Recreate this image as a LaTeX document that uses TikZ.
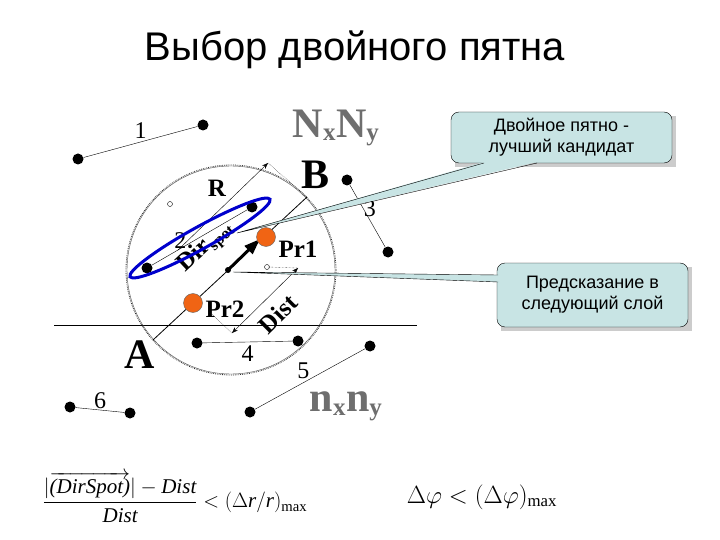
\documentclass[tikz,border=0pt]{standalone}
\usepackage{amsmath}
\usepackage{fontspec}
\setmainfont{Liberation Serif}
\newfontfamily\arialf{Liberation Sans}
\usetikzlibrary{arrows.meta,calc}
\definecolor{callfill}{RGB}{200,228,228}
\definecolor{orng}{RGB}{240,100,20}
\definecolor{grayt}{RGB}{110,110,110}
\begin{document}
\begin{tikzpicture}[x=1pt,y=-1pt,
  dot/.style={circle,fill=black,inner sep=0pt,minimum size=11pt},
  odot/.style={circle,fill=orng,draw=black!60,inner sep=0pt,minimum size=19pt},
  sdot/.style={circle,draw=black,inner sep=0pt,minimum size=5pt},
  lab/.style={font=\fontsize{24}{24}\selectfont},
  blab/.style={font=\bfseries\fontsize{25}{25}\selectfont},
  big/.style={font=\bfseries\fontsize{42}{42}\selectfont},
  callbox/.style={draw=black,fill=callfill,rounded corners=8pt,font=\arialf\fontsize{18}{21}\selectfont,align=center}]
\useasboundingbox (0,0) rectangle (720,540);
\node[font=\arialf\fontsize{40}{40}\selectfont] (title) at (355,50) {Выбор двойного пятна};
% horizontal line
\coordinate (h1) at (54,325); \coordinate (h2) at (417,325);
\draw (h1) -- (h2);
% circle
\node[circle,draw=black!80,densely dotted,thick,minimum size=210pt,inner sep=0pt] (circ) at (231,270) {};
\draw[black!70] (231,270) circle (104);
% dots and segments
\node[dot] (d1a) at (78,159) {}; \node[dot] (d1b) at (203,125) {};
\draw (d1a) -- (d1b) node[lab,midway,above=0pt] {1};
\node[dot] (d3a) at (347,180) {}; \node[dot] (d3b) at (388,252) {};
\draw (d3a) -- (d3b) node[lab,pos=0.38,right=-3pt] {3};
\node[dot] (d4a) at (197,343) {}; \node[dot] (d4b) at (298,341) {};
\draw (d4a) -- (d4b) node[lab,midway,below=0pt] {4};
\node[dot] (d5a) at (250,412) {}; \node[dot] (d5b) at (370,346) {};
\draw (d5a) -- (d5b) node[lab,midway,above left=-3pt] {5};
\node[dot] (d6a) at (70,407) {}; \node[dot] (d6b) at (130,413) {};
\draw (d6a) -- (d6b) node[lab,midway,above=-2pt] {6};
\node[dot] (e1) at (147,268) {}; \node[dot] (e2) at (252,207) {};
\draw (e1) -- (e2) node[lab,pos=0.3,above=-3pt] {2};
\node[sdot] (s1) at (170,204) {}; \node[sdot] (s2) at (267,267) {};
% A-B line
\coordinate (A) at (153,340); \coordinate (B) at (307,197);
\draw[thick] (A) -- (B);
\coordinate (ar1) at (228,270); \coordinate (ar2) at (260,239);
\draw[line width=3pt,-{Triangle[length=16pt,width=11pt]}] (ar1) -- (ar2);
\node[circle,fill=black,inner sep=0pt,minimum size=6pt] (ctr) at (ar1) {};
% R dimension
\coordinate (r1) at (268,163); \coordinate (r2) at (178,250);
\draw[-{Stealth[length=6pt]}] (r2) -- (r1);
\coordinate (r3) at (307,197);
\draw[densely dotted] (r1) -- (r3);
\node[blab] (Rl) at (217,188) {R};
% Dist dimension
\coordinate (q1) at (232,333); \coordinate (q2) at (298,268);
\draw[{Stealth[length=6pt]}-{Stealth[length=6pt]}] (q1) -- (q2);
\draw[densely dotted] (q1) -- (212,314);
\draw[densely dotted] (q2) -- (267,267);
\node[blab,rotate=45] (distl) at (278,314) {Dist};
\node[blab,rotate=43] (dirl) at (206,247) {Dir\textsubscript{\fontsize{16}{16}\selectfont spot}};
% ellipse
\draw[blue!80!black,line width=3pt,rotate around={29:(200,238)}] (200,238) ellipse (80 and 11);
% orange dots
\node[odot] (pr1) at (266,237) {}; \node[odot] (pr2) at (193,303) {};
\node[blab,anchor=west] (pr1l) at (275,249) {Pr1};
\node[blab,anchor=west] (pr2l) at (202,309) {Pr2};
% big labels
\node[big] (Bl) at (316,175) {B};
\node[big] (Al) at (140,355) {A};
\node[grayt,big] (NN) at (336,128) {N\textsubscript{\fontsize{25}{25}\selectfont x}N\textsubscript{\fontsize{25}{25}\selectfont y}};
\node[grayt,big] (nn) at (346,406) {n\textsubscript{\fontsize{25}{25}\selectfont x}n\textsubscript{\fontsize{25}{25}\selectfont y}};
% callouts
\fill[black!20] (455,116) rectangle (676,167);
\node[callbox,minimum width=221pt,minimum height=51pt] (c1) at (561.5,137.5) {Двойное пятно -\\лучший кандидат};
\fill[black!20] (501,267) rectangle (692,331);
\node[callbox,minimum width=191pt,minimum height=64pt] (c2) at (592.5,295) {Предсказание в\\следующий слой};
\coordinate (t1) at (237,233); \coordinate (t2) at (233,272);
\fill[callfill] (t1) -- (484,162) -- (537,162) -- cycle;
\draw (484,163) -- (t1) -- (537,163);
\fill[callfill] (t2) -- (498,275) -- (498,282) -- cycle;
\draw (498,275) -- (t2) -- (498,282);
% formulas
\node[font=\fontsize{21}{21}\selectfont] (f1) at (175,497) {$\dfrac{|\overrightarrow{\textit{(DirSpot)}}|-\textit{Dist}}{\textit{Dist}} < (\Delta \textit{r}/\textit{r})_{\text{max}}$};
\node[font=\fontsize{24}{24}\selectfont] (f2) at (482,497) {$\Delta\varphi < (\Delta\varphi)_{\text{max}}$};
\end{tikzpicture}
\end{document}
